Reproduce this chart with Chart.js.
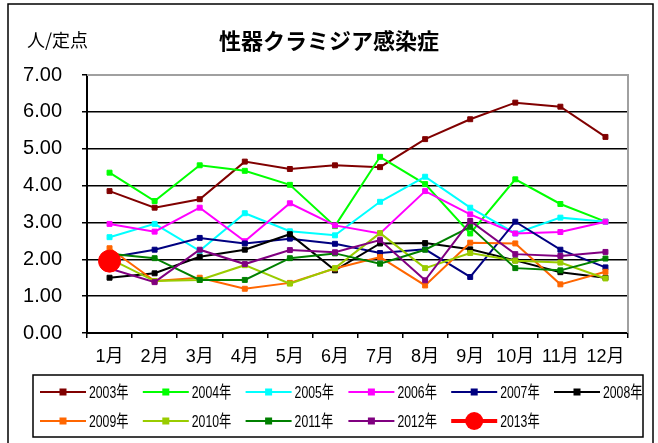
<!DOCTYPE html>
<html>
<head>
<meta charset="utf-8">
<script src="https://cdn.jsdelivr.net/npm/chart.js@4/dist/chart.umd.min.js"></script>
<style>
html,body{margin:0;padding:0;background:#fff;}
#wrap{position:relative;width:658px;height:443px;}
</style>
</head>
<body>
<div id="wrap"><canvas id="c" width="658" height="443"></canvas></div>
<script>
const months = ['1月','2月','3月','4月','5月','6月','7月','8月','9月','10月','11月','12月'];
const seriesNames = ['2003年','2004年','2005年','2006年','2007年','2008年','2009年','2010年','2011年','2012年','2013年'];
const y2003 = [3.85, 3.40, 3.63, 4.65, 4.45, 4.55, 4.50, 5.26, 5.80, 6.25, 6.14, 5.32];
const y2004 = [4.35, 3.58, 4.55, 4.40, 4.02, 2.90, 4.78, 4.04, 2.70, 4.17, 3.50, 3.02];
const y2005 = [2.60, 2.96, 2.23, 3.25, 2.76, 2.65, 3.56, 4.24, 3.40, 2.70, 3.13, 3.02];
const y2006 = [2.96, 2.75, 3.40, 2.49, 3.52, 2.92, 2.70, 3.85, 3.22, 2.70, 2.74, 3.02];
const y2007 = [2.05, 2.26, 2.58, 2.43, 2.56, 2.42, 2.17, 2.27, 1.52, 3.02, 2.26, 1.78];
const y2008 = [1.50, 1.62, 2.07, 2.26, 2.68, 1.70, 2.43, 2.44, 2.27, 1.97, 1.65, 1.50];
const y2009 = [2.30, 1.41, 1.50, 1.20, 1.36, 1.75, 2.06, 1.29, 2.45, 2.43, 1.32, 1.66];
const y2010 = [2.02, 1.41, 1.44, 1.84, 1.34, 1.76, 2.71, 1.76, 2.17, 1.96, 1.91, 1.48];
const y2011 = [2.15, 2.03, 1.44, 1.44, 2.03, 2.16, 1.88, 2.26, 2.88, 1.76, 1.70, 2.02];
const y2012 = [1.75, 1.38, 2.26, 1.87, 2.25, 2.19, 2.52, 1.43, 3.04, 2.14, 2.09, 2.20];
const y2013 = [1.95, null, null, null, null, null, null, null, null, null, null, null];
const yTicks = ['0.00','1.00','2.00','3.00','4.00','5.00','6.00','7.00'];
const colors = ['#800000','#00ff00','#00ffff','#ff00ff','#000080','#000000','#ff6600','#99cc00','#008000','#800080','#ff0000'];
const allSeries = [y2003,y2004,y2005,y2006,y2007,y2008,y2009,y2010,y2011,y2012,y2013];

const FONT = '"Liberation Sans","Noto Sans CJK JP",sans-serif';

const datasets = allSeries.map((d, i) => {
  const big = i === 10;
  return {
    label: seriesNames[i],
    data: d,
    borderColor: colors[i],
    backgroundColor: colors[i],
    pointBackgroundColor: colors[i],
    pointBorderColor: colors[i],
    borderWidth: big ? 4 : 2,
    pointStyle: big ? 'circle' : 'rect',
    pointRadius: big ? 11 : 3.5,
    pointBorderWidth: 1,
    tension: 0,
    spanGaps: false,
    order: 11 - i
  };
});

const decor = {
  id: 'decor',
  beforeDatasetsDraw(chart) {
    const ctx = chart.ctx, a = chart.chartArea;
    ctx.save();
    ctx.strokeStyle = '#a0a0a0';
    ctx.lineWidth = 2;
    ctx.beginPath();
    ctx.moveTo(a.left, a.top);
    ctx.lineTo(a.right, a.top);
    ctx.lineTo(a.right, a.bottom);
    ctx.stroke();
    ctx.restore();
  },
  afterDraw(chart) {
    const ctx = chart.ctx;
    ctx.save();
    // outer frame
    ctx.strokeStyle = '#000';
    ctx.lineWidth = 1.5;
    ctx.strokeRect(8, 4, 645, 450);
    // unit & title
    ctx.fillStyle = '#000';
    ctx.textBaseline = 'middle';
    ctx.textAlign = 'left';
    ctx.font = '18px "Noto Sans CJK JP"';
    ctx.fillText('人/定点', 27, 40);
    ctx.textAlign = 'center';
    ctx.font = 'bold 22px "Noto Sans CJK JP"';
    ctx.fillText('性器クラミジア感染症', 329, 41);
    // legend
    const bx = 33, by = 375, bw = 610, bh = 62;
    ctx.lineWidth = 1.5;
    ctx.strokeStyle = '#000';
    ctx.strokeRect(bx, by, bw, bh);
    ctx.textAlign = 'left';
    chart.data.datasets.forEach((ds, i) => {
      const row = Math.floor(i / 6), col = i % 6;
      const x0 = 40 + col * 102.8, yy = 392 + row * 29;
      ctx.strokeStyle = ds.borderColor;
      ctx.lineWidth = ds.borderWidth === 4 ? 4 : 2;
      ctx.beginPath();
      ctx.moveTo(x0, yy);
      ctx.lineTo(x0 + 46, yy);
      ctx.stroke();
      ctx.fillStyle = ds.backgroundColor;
      if (ds.pointStyle === 'circle') {
        ctx.beginPath();
        ctx.arc(x0 + 23, yy, 9, 0, Math.PI * 2);
        ctx.fill();
      } else {
        ctx.fillRect(x0 + 23 - 3.5, yy - 3.5, 7, 7);
      }
      ctx.fillStyle = '#000';
      ctx.save();
      ctx.translate(x0 + 49, yy + 1);
      ctx.scale(0.72, 1);
      ctx.font = '17px ' + FONT;
      ctx.fillText(ds.label, 0, 0);
      ctx.restore();
    });
    ctx.restore();
  }
};

new Chart(document.getElementById('c'), {
  type: 'line',
  data: { labels: months, datasets },
  options: {
    responsive: false,
    animation: false,
    events: [],
    layout: { padding: { top: 75, right: 30, bottom: 65, left: 0 } },
    plugins: { legend: { display: false }, title: { display: false }, tooltip: { enabled: false } },
    scales: {
      x: {
        offset: true,
        grid: { offset: true, drawOnChartArea: false, color: '#000', lineWidth: 1.5, tickLength: 5 },
        border: { color: '#000', width: 2 },
        ticks: { color: '#000', font: { family: FONT, size: 18 }, padding: 8, maxRotation: 0, autoSkip: false },
        afterFit(s) { s.height = 45; }
      },
      y: {
        min: 0, max: 7,
        grid: { color: (c) => c.tick && c.tick.value === 7 ? 'rgba(0,0,0,0)' : '#000', lineWidth: 1.5, tickLength: 5, tickColor: '#000' },
        border: { color: '#000', width: 2 },
        ticks: { stepSize: 1, color: '#000', font: { family: FONT, size: 20 }, padding: 20,
          callback: (v) => yTicks[v] },
        afterFit(s) { s.width = 87; }
      }
    }
  },
  plugins: [decor]
});
</script>
</body>
</html>
